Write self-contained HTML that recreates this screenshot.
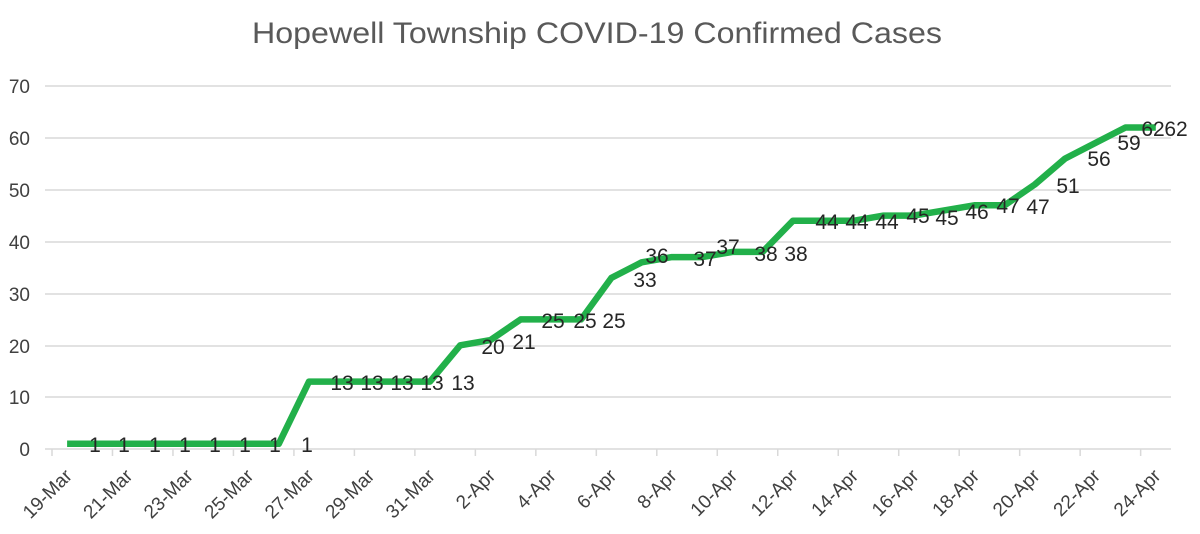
<!DOCTYPE html>
<html><head><meta charset="utf-8"><style>
html,body{margin:0;padding:0;background:#fff;}
svg{display:block;font-family:"Liberation Sans",sans-serif;}
</style></head><body>
<svg width="1200" height="534" viewBox="0 0 1200 534">
<text x="597" y="43" text-anchor="middle" font-size="30" fill="#595959" textLength="690" lengthAdjust="spacingAndGlyphs">Hopewell Township COVID-19 Confirmed Cases</text>
<g stroke="#d9d9d9" stroke-width="1.5">
<line x1="45" y1="86" x2="1171" y2="86"/>
<line x1="45" y1="138" x2="1171" y2="138"/>
<line x1="45" y1="190" x2="1171" y2="190"/>
<line x1="45" y1="242" x2="1171" y2="242"/>
<line x1="45" y1="294" x2="1171" y2="294"/>
<line x1="45" y1="346" x2="1171" y2="346"/>
<line x1="45" y1="397" x2="1171" y2="397"/>
<line x1="45" y1="449" x2="1171" y2="449"/>
</g>
<g fill="#404040" font-size="19" text-anchor="end">
<text x="30" y="93">70</text><text x="30" y="145">60</text><text x="30" y="197">50</text><text x="30" y="249">40</text><text x="30" y="301">30</text><text x="30" y="353">20</text><text x="30" y="404">10</text><text x="30" y="456">0</text>
</g>
<g id="ticks" stroke="#d9d9d9" stroke-width="1.5"></g>
<g id="xl" fill="#404040" font-size="19" text-anchor="end"></g>
<polyline id="ln" fill="none" stroke="#22b04a" stroke-width="6.5" stroke-linejoin="round"/>
<g id="lb" fill="#262626" font-size="21" text-anchor="middle"></g>
<script>
var d=[1,1,1,1,1,1,1,1,13,13,13,13,13,20,21,25,25,25,33,36,37,37,38,38,44,44,44,45,45,46,47,47,51,56,59,62,62];
var ns="http://www.w3.org/2000/svg";
function X(i){return 52+(i+0.5)*30.24;}
function Y(v){return 449-v*5.186;}
var pts=d.map(function(v,i){return X(i).toFixed(1)+","+Y(v).toFixed(1)}).join(" ");
document.getElementById("ln").setAttribute("points",pts);
var tk=document.getElementById("ticks"),xl=document.getElementById("xl");
var names=["19-Mar","21-Mar","23-Mar","25-Mar","27-Mar","29-Mar","31-Mar","2-Apr","4-Apr","6-Apr","8-Apr","10-Apr","12-Apr","14-Apr","16-Apr","18-Apr","20-Apr","22-Apr","24-Apr"];
for(var k=0;k<=18;k++){var tx=52+k*60.48;var l=document.createElementNS(ns,"line");l.setAttribute("x1",tx);l.setAttribute("x2",tx);l.setAttribute("y1",449);l.setAttribute("y2",456);tk.appendChild(l);
var cx=X(2*k)+6,cy=477;var t=document.createElementNS(ns,"text");t.setAttribute("x",cx);t.setAttribute("y",cy);t.setAttribute("transform","rotate(-45 "+cx+" "+cy+")");t.textContent=names[k];xl.appendChild(t);}
var L=[[95,445,"1"],[124,445,"1"],[155,445,"1"],[185,445,"1"],[215,445,"1"],[245,445,"1"],[275,445,"1"],[307,445,"1"],
[342,383,"13"],[372,383,"13"],[402,383,"13"],[432,383,"13"],[463,383,"13"],
[493,347,"20"],[524,342,"21"],[553,321,"25"],[585,321,"25"],[614,321,"25"],[645,280,"33"],[657,256,"36"],[705,259,"37"],[728,247,"37"],[766,254,"38"],[796,254,"38"],
[827,222,"44"],[857,222,"44"],[887,222,"44"],[918,216,"45"],[947,218,"45"],[977,212,"46"],[1008,206,"47"],[1038,207,"47"],[1068,186,"51"],[1099,159,"56"],[1129,143,"59"],[1153,129,"62"],[1176,129,"62"]];
var lb=document.getElementById("lb");
L.forEach(function(a){var t=document.createElementNS(ns,"text");t.setAttribute("x",a[0]);t.setAttribute("y",a[1]+7);t.textContent=a[2];lb.appendChild(t);});
</script>
</svg>
</body></html>
